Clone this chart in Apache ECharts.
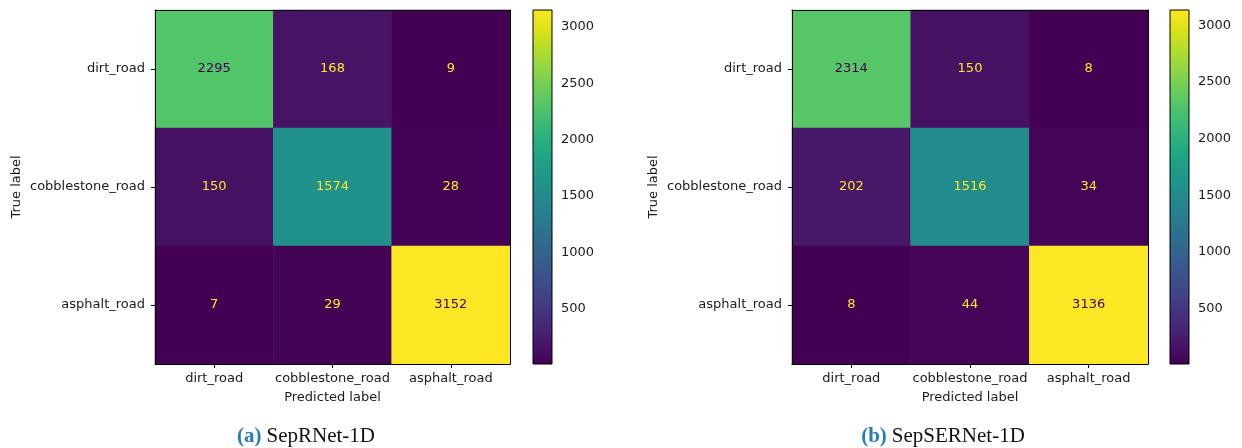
<!DOCTYPE html>
<html>
<head>
<meta charset="utf-8">
<script src="https://cdn.jsdelivr.net/npm/echarts@6/dist/echarts.min.js"></script>
<style>
  html, body { margin: 0; padding: 0; background: #fff; }
  #chart { width: 1242px; height: 448px; }
</style>
</head>
<body>
<div id="chart"></div>
<script>
// Class names shared by both confusion matrices (rows = true, columns = predicted)
const classNames = ['dirt_road', 'cobblestone_road', 'asphalt_road'];

// Confusion matrix counts, SepRNet-1D
const matrixA = [
  [2295, 168, 9],
  [150, 1574, 28],
  [7, 29, 3152]
];

// Confusion matrix counts, SepSERNet-1D
const matrixB = [
  [2314, 150, 8],
  [202, 1516, 34],
  [8, 44, 3136]
];

// Colorbar tick values
const colorbarTicks = [500, 1000, 1500, 2000, 2500, 3000];

// Sub-figure captions
const captionTags = ['(a)', '(b)'];
const captionNames = ['SepRNet-1D', 'SepSERNet-1D'];

// Viridis colormap sampled at 21 evenly spaced stops
const viridis = [
  '#440154', '#471365', '#482475', '#463480', '#414487', '#3b528b', '#355f8d',
  '#2f6c8e', '#2a788e', '#25848e', '#21918c', '#1e9c89', '#22a884', '#2fb47c',
  '#44bf70', '#5ec962', '#7ad151', '#9bd93c', '#bddf26', '#dfe318', '#fde725'
];

const FONT = 'DejaVu Sans';
const TEXT = '#1a1a1a';

const panels = [
  { matrix: matrixA, grid: { left: 155, top: 10, width: 355, height: 354 },
    bar: { left: 533, top: 10, width: 19, height: 354 }, captionX: 301 },
  { matrix: matrixB, grid: { left: 792, top: 10, width: 356, height: 354 },
    bar: { left: 1170, top: 10, width: 19, height: 354 }, captionX: 938 }
];

const option = {
  animation: false,
  backgroundColor: '#fff',
  grid: [], xAxis: [], yAxis: [], series: [], visualMap: [], title: []
};

panels.forEach((p, i) => {
  const flat = p.matrix.flat();
  const vmin = Math.min(...flat);
  const vmax = Math.max(...flat);
  const thresh = (vmin + vmax) / 2;

  const gi = option.grid.length;
  option.grid.push(Object.assign({ containLabel: false }, p.grid));
  option.grid.push(Object.assign({ containLabel: false }, p.bar));

  const axisBase = {
    type: 'category', data: classNames,
    axisLine: { show: true, lineStyle: { color: '#000', width: 1 } },
    axisTick: { show: true, alignWithLabel: true, length: 4, inside: false, lineStyle: { color: '#000', width: 1 } },
    axisLabel: { fontFamily: FONT, fontSize: 13, color: TEXT, interval: 0, hideOverlap: false },
    splitLine: { show: false },
    z: 10
  };

  // matrix axes: bottom/left carry labels, top/right close the frame
  const xb = option.xAxis.length;
  option.xAxis.push(Object.assign({}, axisBase, {
    gridIndex: gi, position: 'bottom',
    axisLabel: Object.assign({}, axisBase.axisLabel, { margin: 8 }),
    name: 'Predicted label', nameLocation: 'middle', nameGap: 27,
    nameTextStyle: { fontFamily: FONT, fontSize: 13, color: TEXT }
  }));
  option.xAxis.push(Object.assign({}, axisBase, {
    gridIndex: gi, position: 'top', axisTick: { show: false }, axisLabel: { show: false }
  }));
  const yb = option.yAxis.length;
  option.yAxis.push(Object.assign({}, axisBase, {
    gridIndex: gi, position: 'left', inverse: true,
    axisLabel: Object.assign({}, axisBase.axisLabel, { margin: 10 }),
    name: 'True label', nameLocation: 'middle', nameGap: 132, nameRotate: 90,
    nameTextStyle: { fontFamily: FONT, fontSize: 13, color: TEXT }
  }));
  option.yAxis.push(Object.assign({}, axisBase, {
    gridIndex: gi, position: 'right', inverse: true, axisTick: { show: false }, axisLabel: { show: false }
  }));

  // colorbar axes
  const xc = option.xAxis.length;
  option.xAxis.push({ type: 'value', gridIndex: gi + 1, min: 0, max: 1, show: false });
  const yc = option.yAxis.length;
  option.yAxis.push({
    type: 'value', gridIndex: gi + 1, position: 'right', min: vmin, max: vmax,
    axisLine: { show: false },
    splitLine: { show: false },
    axisTick: { show: true, length: 4, inside: false, customValues: colorbarTicks, lineStyle: { color: '#000', width: 1 } },
    axisLabel: {
      show: true, margin: 9, fontFamily: FONT, fontSize: 13, color: TEXT,
      customValues: colorbarTicks, formatter: (v) => String(v)
    }
  });

  // heatmap cells
  const data = [];
  p.matrix.forEach((row, r) => row.forEach((v, c) => {
    data.push({
      value: [c, r, v],
      label: { color: v < thresh ? viridis[viridis.length - 1] : viridis[0] }
    });
  }));
  const si = option.series.length;
  option.series.push({
    type: 'heatmap', xAxisIndex: xb, yAxisIndex: yb, data: data,
    label: { show: true, fontFamily: FONT, fontSize: 13, formatter: (d) => String(d.value[2]) },
    itemStyle: { borderWidth: 0 },
    emphasis: { disabled: true }
  });
  option.visualMap.push({
    show: false, type: 'continuous', seriesIndex: si, dimension: 2,
    min: vmin, max: vmax, inRange: { color: viridis }
  });

  // colorbar gradient strip
  option.series.push({
    type: 'custom', xAxisIndex: xc, yAxisIndex: yc,
    data: [[0, vmin, vmax]],
    renderItem: (params, api) => {
      const cs = params.coordSys;
      const pTop = api.coord([0, api.value(2)]);
      const pBot = api.coord([0, api.value(1)]);
      return {
        type: 'rect',
        shape: { x: cs.x, y: pTop[1], width: cs.width, height: pBot[1] - pTop[1] },
        style: {
          fill: {
            type: 'linear', x: 0, y: 1, x2: 0, y2: 0,
            colorStops: viridis.map((c, k) => ({ offset: k / (viridis.length - 1), color: c }))
          },
          stroke: '#000', lineWidth: 1
        }
      };
    },
    silent: true
  });

  // caption
  option.title.push({
    text: '{tag|' + captionTags[i] + '} {name|' + captionNames[i] + '}',
    left: p.captionX, top: 421, textAlign: 'center',
    textStyle: {
      fontWeight: 'normal',
      rich: {
        tag: { fontFamily: 'Liberation Serif', fontSize: 21, fontWeight: 'bold', color: '#2b7bba' },
        name: { fontFamily: 'Liberation Serif', fontSize: 21, fontWeight: 'normal', color: '#111' }
      }
    }
  });
});

const chart = echarts.init(document.getElementById('chart'), null, { renderer: 'canvas' });
chart.setOption(option);
</script>
</body>
</html>
